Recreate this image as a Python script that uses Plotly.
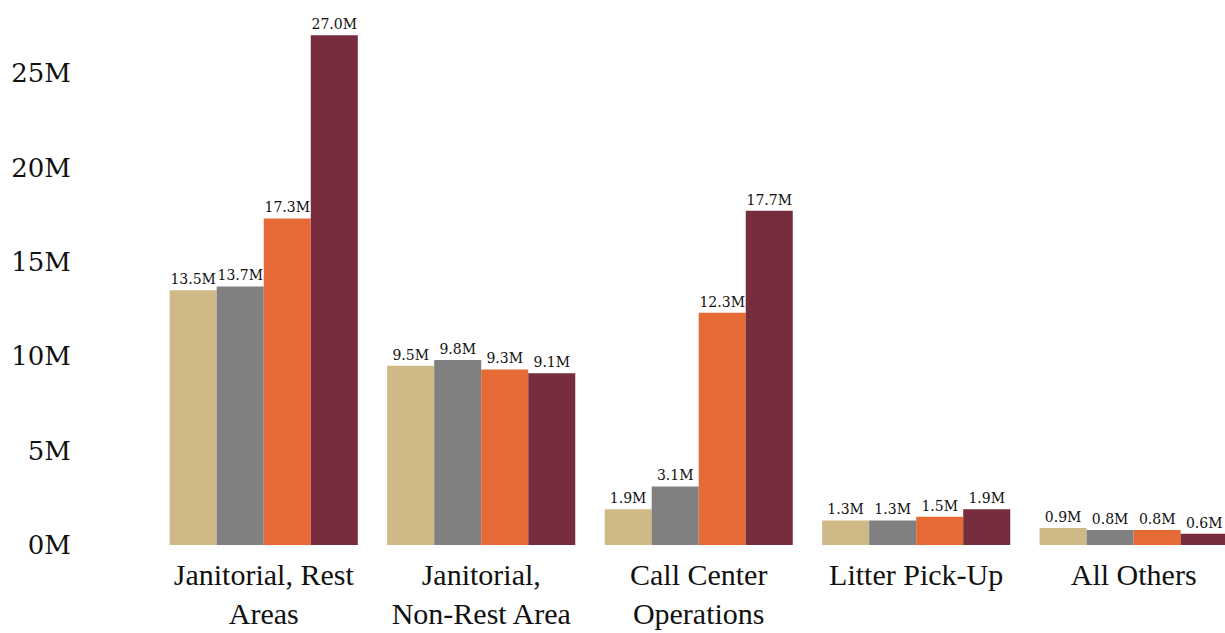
import plotly.graph_objects as go

categories = ["Janitorial, Rest<br>Areas", "Janitorial,<br>Non-Rest Area",
              "Call Center<br>Operations", "Litter Pick-Up", "All Others"]
series_names = ["Year 1", "Year 2", "Year 3", "Year 4"]
year1 = [13.5, 9.5, 1.9, 1.3, 0.9]
year2 = [13.7, 9.8, 3.1, 1.3, 0.8]
year3 = [17.3, 9.3, 12.3, 1.5, 0.8]
year4 = [27.0, 9.1, 17.7, 1.9, 0.6]
colors = ["#CFB987", "#808080", "#E56A35", "#772D3E"]

fig = go.Figure()
for name, vals, c in zip(series_names, [year1, year2, year3, year4], colors):
    fig.add_trace(go.Bar(
        x=categories, y=vals, name=name, marker_color=c,
        marker_line_width=0,
        texttemplate="%{y:.1f}M", textposition="outside",
        textfont=dict(family="DejaVu Serif", size=14, color="#111"),
        cliponaxis=False,
    ))

fig.update_layout(
    width=1225, height=633,
    margin=dict(l=155, r=0, t=0, b=88),
    barmode="group", bargap=0.135, bargroupgap=0,
    plot_bgcolor="white", paper_bgcolor="white",
    showlegend=False,
    xaxis=dict(range=[-0.5, 4.42], showgrid=False, showline=False, ticks="",
               ticklabelstandoff=9, automargin=False,
               tickfont=dict(family="Liberation Serif", size=30, color="#111")),
    yaxis=dict(range=[0, 28.87], dtick=5, ticksuffix="M", showgrid=False,
               showline=False, zeroline=False, ticks="", ticklabelstandoff=83,
               automargin=False,
               tickfont=dict(family="DejaVu Serif", size=26, color="#111")),
)

fig.write_html("out.html")
